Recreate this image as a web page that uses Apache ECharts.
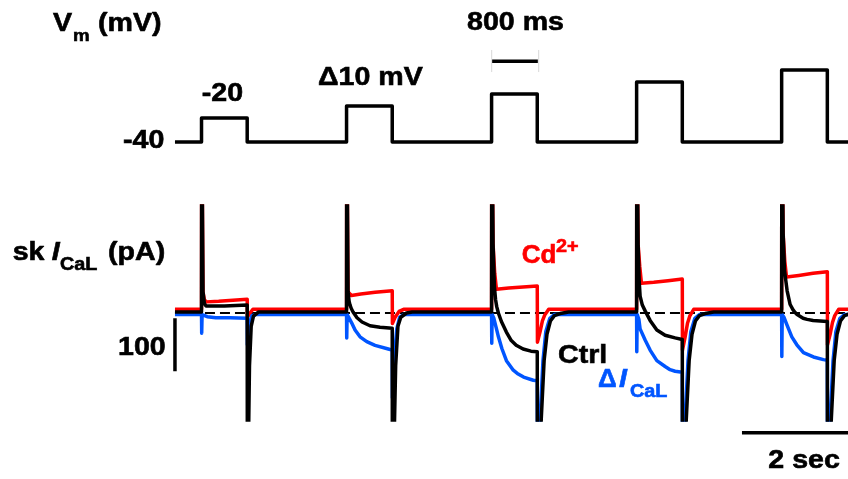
<!DOCTYPE html>
<html><head><meta charset="utf-8">
<script src="https://cdn.jsdelivr.net/npm/echarts@6/dist/echarts.min.js"></script>
<style>html,body{margin:0;padding:0;background:#fff}#chart{width:848px;height:479px}</style>
</head><body><div id="chart"></div>
<script>
// ---------------- data ----------------
// voltage protocol (ms, mV)
const stepOnsets = [0, 2540, 5080, 7620, 10160];
const stepDuration = 800;
const stepLevels = [-20, -10, 0, 10, 20];
const holdingPotential = -40;
const traceStart = -465;
const traceEnd = 11322;

// currents (pA); each step: [ms after step onset, pA]
const ctrlBaseline = 2, cdBaseline = 7, dICaLBaseline = -3;

const ctrlStep1 = [[0,2],[3,400],[12,400],[26,40],[50,18],[80,13],[200,13],[400,13],[600,14],[800,15],[803,-400],[815,-400],[840,-100],[870,-25],[910,-6],[1000,2]];
const ctrlStep2 = [[0,2],[3,400],[12,400],[26,40],[45,22],[61,15],[85,8],[114,2],[184,-9],[271,-17],[411,-24],[586,-27],[800,-29],[803,-400],[820,-400],[860,-100],[900,-25],[950,-8],[1050,0],[1150,2]];
const ctrlStep3 = [[0,2],[3,400],[12,400],[26,130],[49,50],[70,25],[90,12],[119,0],[172,-16],[259,-36],[345,-52],[431,-61],[552,-68],[690,-72],[800,-73],[803,-400],[830,-400],[870,-200],[920,-90],[970,-40],[1030,-15],[1100,-5],[1200,-1],[1350,2]];
const ctrlStep4 = [[0,2],[3,400],[12,400],[26,130],[45,60],[61,32],[100,15],[149,4],[236,-14],[354,-32],[499,-42],[674,-47],[800,-50],[803,-400],[830,-400],[870,-200],[920,-90],[970,-40],[1030,-15],[1100,-5],[1200,-1],[1350,2]];
const ctrlStep5 = [[0,2],[3,400],[12,400],[26,150],[50,80],[96,42],[149,16],[200,6],[236,1],[271,-3],[376,-10],[446,-12],[551,-14],[674,-15],[800,-16],[803,-400],[830,-400],[870,-200],[920,-90],[970,-40],[1030,-15],[1100,-5],[1200,-1],[1350,2]];

const cdStep1 = [[0,7],[3,400],[12,400],[26,40],[50,25],[85,21],[300,22],[550,24],[800,26],[803,-8],[850,0],[900,7]];
const cdStep2 = [[0,7],[3,400],[12,400],[26,40],[55,40],[85,33],[250,36],[500,39],[800,42],[803,-20],[850,-8],[920,3],[1000,7]];
const cdStep3 = [[0,7],[3,400],[12,400],[26,130],[55,75],[85,45],[300,47],[550,49],[800,51],[803,-55],[850,-35],[890,-15],[930,-4],[1000,7]];
const cdStep4 = [[0,7],[3,400],[12,400],[26,130],[55,88],[85,56],[300,58],[550,61],[800,64],[803,-70],[850,-45],[890,-20],[930,-6],[1000,7]];
const cdStep5 = [[0,7],[3,400],[12,400],[26,150],[55,98],[85,68],[300,71],[550,75],[800,78],[803,-60],[850,-40],[890,-18],[930,-5],[1000,7]];

const dICaLStep1 = [[0,-3],[3,-38],[10,-3],[40,-5],[100,-7],[250,-9],[500,-9],[800,-10],[803,-60],[840,-20],[880,-5],[950,-3]];
const dICaLStep2 = [[0,-3],[3,-47],[10,-3],[31,-7],[91,-19],[149,-32],[236,-45],[354,-54],[499,-61],[731,-68],[800,-70],[803,-160],[840,-80],[880,-30],[930,-8],[1000,-3]];
const dICaLStep3 = [[0,-3],[3,-57],[10,-3],[40,-10],[90,-32],[120,-45],[180,-67],[260,-90],[380,-108],[450,-114],[560,-121],[730,-127],[800,-128],[803,-300],[850,-200],[900,-90],[950,-35],[1020,-10],[1100,-3]];
const dICaLStep4 = [[0,-3],[3,-73],[10,-3],[40,-12],[61,-30],[149,-51],[236,-70],[354,-90],[499,-101],[586,-107],[674,-110],[800,-112],[803,-300],[850,-200],[900,-90],[950,-35],[1020,-10],[1100,-3]];
const dICaLStep5 = [[0,-3],[3,-82],[10,-3],[40,-8],[91,-22],[178,-45],[266,-60],[382,-75],[557,-83],[732,-88],[800,-89],[803,-300],[850,-200],[900,-90],[950,-35],[1020,-10],[1100,-3]];

// scale bars
const currentScaleBar = 100;   // pA
const timeScaleBar = 2000;     // ms
const protocolScaleBar = 800;  // ms

// ---------------- build ----------------
function buildVoltage() {
  const d = [[traceStart, holdingPotential]];
  stepOnsets.forEach((t0, i) => {
    d.push([t0, holdingPotential], [t0, stepLevels[i]], [t0 + stepDuration, stepLevels[i]], [t0 + stepDuration, holdingPotential]);
  });
  d.push([traceEnd, holdingPotential]);
  return d;
}
function buildTrace(base, steps) {
  const d = [[traceStart, base]];
  steps.forEach((pts, i) => pts.forEach(p => d.push([stepOnsets[i] + p[0], p[1]])));
  if (d[d.length - 1][0] < traceEnd) d.push([traceEnd, base]);
  return d;
}
const ctrlData = buildTrace(ctrlBaseline, [ctrlStep1, ctrlStep2, ctrlStep3, ctrlStep4, ctrlStep5]);
const cdData = buildTrace(cdBaseline, [cdStep1, cdStep2, cdStep3, cdStep4, cdStep5]);
const dICaLData = buildTrace(dICaLBaseline, [dICaLStep1, dICaLStep2, dICaLStep3, dICaLStep4, dICaLStep5]);

const FONT = '"Liberation Sans", Arial, Helvetica, sans-serif';
function label(text, x, baseline, size, color, italic, sx) {
  const c = color || '#000';
  return {
    type: 'text', x: x, y: baseline - 0.3465 * size, scaleX: sx || 1.1, silent: true, z: 100,
    style: {
      text: text, fill: c, stroke: c, lineWidth: 0.6,
      font: (italic ? 'italic ' : '') + 'bold ' + size + 'px ' + FONT,
      textAlign: 'left', align: 'left', textVerticalAlign: 'middle', verticalAlign: 'middle'
    }
  };
}

const RED = '#ff0000', BLUE = '#0055ff';
const X_MIN = -552, X_MAX = 11322;
function lineSeries(data, color, width, xi, yi, z, extra) {
  return Object.assign({
    type: 'line', data: data, xAxisIndex: xi, yAxisIndex: yi, symbol: 'none', showSymbol: false,
    silent: true, animation: false, z: z,
    lineStyle: { color: color, width: width, cap: 'butt', join: 'round' }
  }, extra || {});
}

const option = {
  animation: false,
  backgroundColor: '#fff',
  grid: [
    { left: 170, right: 0, top: 46, height: 102 },
    { left: 170, right: 0, top: 206, height: 214 },
    { left: 170, right: 0, top: 48, height: 397.5 }
  ],
  xAxis: [0, 1, 2].map(i => ({ type: 'value', gridIndex: i, min: X_MIN, max: X_MAX, show: false })),
  yAxis: [
    { type: 'value', gridIndex: 0, min: -45, max: 40, show: false },
    { type: 'value', gridIndex: 1, min: -202, max: 202, show: false },
    { type: 'value', gridIndex: 2, min: -250, max: 500, show: false }
  ],
  series: [
    lineSeries(buildVoltage(), '#000', 3.5, 0, 0, 2),
    // 800 ms bar with faint end ticks
    lineSeries([[5090, 27.3], [5090 + protocolScaleBar, 27.3]], '#000', 3.5, 0, 0, 2),
    lineSeries([[5082, 36.7], [5082, 18.3]], '#d8d8d8', 1, 0, 0, 1),
    lineSeries([[5905, 36.7], [5905, 18.3]], '#d8d8d8', 1, 0, 0, 1),
    // zero dashed line
    lineSeries([[traceStart, 0], [traceEnd, 0]], '#000', 2, 1, 1, 1, { lineStyle: { color: '#000', width: 2, type: [10, 5] } }),
    lineSeries(cdData, RED, 3.5, 1, 1, 2),
    lineSeries(dICaLData, BLUE, 3.5, 1, 1, 3),
    lineSeries(ctrlData, '#000', 3.5, 1, 1, 4),
    // scale bars
    lineSeries([[traceStart, -10], [traceStart, -10 - currentScaleBar]], '#000', 3.5, 2, 2, 5),
    lineSeries([[9465, -226], [9465 + timeScaleBar, -226]], '#000', 3.5, 2, 2, 5)
  ],
  graphic: [
    label('V', 53, 33.3, 26),
    label('m', 73, 42.5, 17),
    label('(mV)', 98, 33.3, 26),
    label('-40', 123, 150, 26),
    label('-20', 201.7, 103, 26),
    label('\u039410 mV', 318, 86.7, 26),
    label('800 ms', 467, 31.7, 26),
    label('sk', 12.7, 261.7, 26),
    label('I', 51.7, 261.7, 26, '#000', true),
    label('CaL', 60, 271.7, 18),
    label('(pA)', 108, 261.7, 26),
    label('100', 118, 356.7, 26),
    label('Cd', 521.7, 265, 26, RED, false, 1.0),
    label('2+', 556, 253, 18, RED),
    label('Ctrl', 558, 365, 26),
    label('\u0394', 598, 389, 26, BLUE, false, 1.0),
    label('I', 619, 389, 26, BLUE, true),
    label('CaL', 630, 398, 18, BLUE),
    label('2 sec', 768.3, 470, 26)
  ]
};
const chart = echarts.init(document.getElementById('chart'), null, { renderer: 'canvas' });
chart.setOption(option);
</script>
</body></html>
